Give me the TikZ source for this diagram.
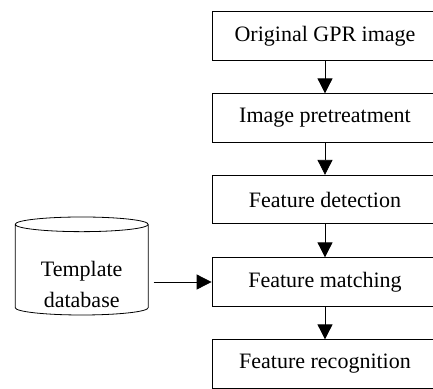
\documentclass[tikz,border=0pt]{standalone}
\usepackage{fontspec}
\setmainfont{Liberation Serif}
\usetikzlibrary{arrows.meta}
\usetikzlibrary{shapes.geometric}

\begin{document}
\begin{tikzpicture}[x=1pt, y=-1pt, font=\fontsize{22}{31}\selectfont,
    stepbox/.style={draw, line width=0.8pt, minimum width=226pt, minimum height=48.5pt, inner sep=0pt},
    store/.style={draw, line width=0.8pt, cylinder, shape border rotate=90, aspect=2.2, minimum width=133pt, minimum height=98pt},
    flow/.style={line width=0.8pt, -{Triangle[length=15pt, width=15pt]}}]
    \useasboundingbox (0, 0) rectangle (433, 388);
    % processing steps
    \node [stepbox] (1) at (325, 36) {Original GPR image};
    \node [stepbox] (2) at (325, 118) {Image pretreatment};
    \node [stepbox] (3) at (325, 199.5) {Feature detection};
    \node [stepbox] (4) at (325, 282) {Feature matching};
    \node [stepbox] (5) at (325, 364) {Feature recognition};
    \draw [flow] (1) to (2);
    \draw [flow] (2) to (3);
    \draw [flow] (3) to (4);
    \draw [flow] (4) to (5);
    % template store
    \node [store] (0) at (81.7, 271) {};
    \node [align=center] (6) at (81.7, 284) {Template\\database};
    \draw [flow, shorten <=5pt] (0.east |- 4.west) to (4.west);
\end{tikzpicture}
\end{document}
